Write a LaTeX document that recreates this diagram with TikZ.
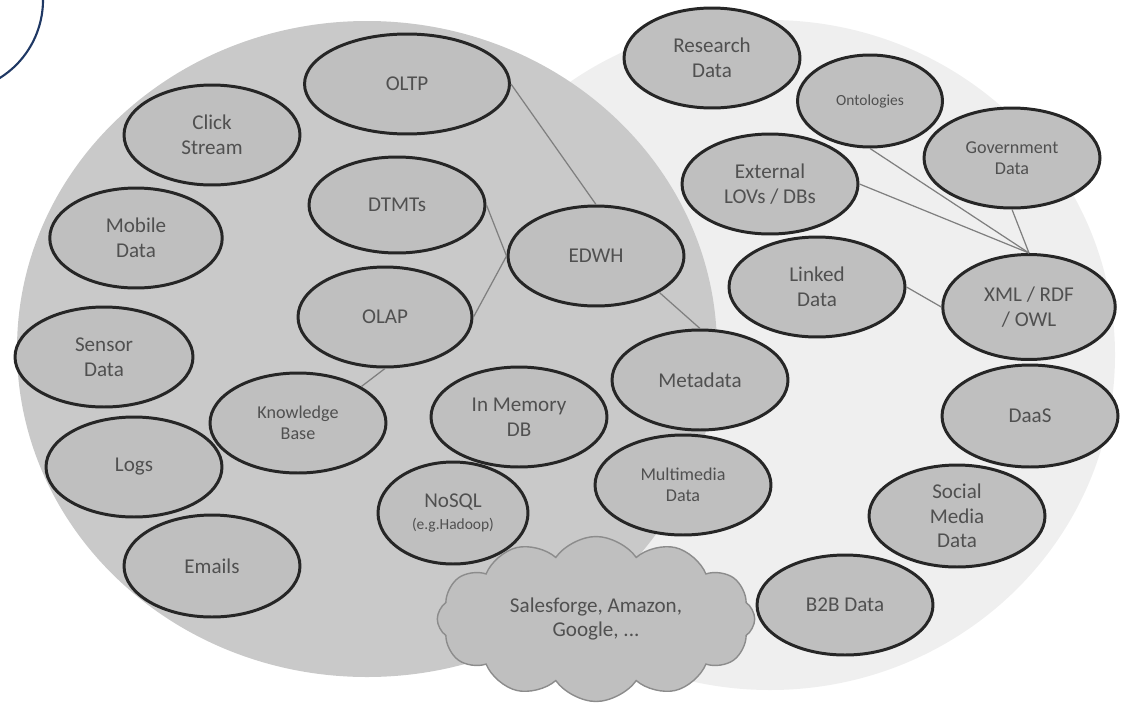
\documentclass[tikz,border=0pt]{standalone}
\usepackage{fontspec}
\setmainfont{Carlito}
\usetikzlibrary{shapes.geometric,shapes.symbols}
\definecolor{bigleft}{HTML}{C9C9C9}
\definecolor{bigright}{HTML}{EFEFEF}
\definecolor{blobfill}{HTML}{BFBFBF}
\definecolor{txtgray}{HTML}{505050}
\definecolor{linkgray}{HTML}{7F7F7F}
\definecolor{navy}{HTML}{1F3864}
\tikzset{
  blob/.style={ellipse,draw=black!85,line width=1.7pt,fill=blobfill,text=txtgray,
    align=center,inner sep=0pt,minimum width=3.52cm,minimum height=2cm,
    font=\fontsize{12}{14}\selectfont},
  smalltxt/.style={font=\fontsize{10.3}{12}\selectfont},
  link/.style={draw=linkgray,line width=0.7pt}
}
\begin{document}
\begin{tikzpicture}[x=0.02cm,y=-0.02cm]
\useasboundingbox (0,0) rectangle (1121,703);
\fill[bigright] (770,355) ellipse [x radius=345,y radius=335];
\fill[bigleft] (367,349) ellipse [x radius=350,y radius=328];
\draw[navy,line width=1.2pt] (-49,0) ++(-15:92) arc[start angle=-15,end angle=62,radius=92];

\node[blob] (research) at (712,58) {Research\\Data};
\node[blob,minimum width=4.1cm] (oltp) at (407,84) {OLTP};
\node[blob,font=\fontsize{8.8}{11}\selectfont,minimum width=2.9cm,minimum height=1.84cm] (onto) at (870,101) {Ontologies};
\node[blob,smalltxt] (gov) at (1012,158) {Government\\Data};
\node[blob] (extern) at (770,184) {External\\LOVs / DBs};
\node[blob] (linked) at (817,287) {Linked\\Data};
\node[blob,minimum width=3.45cm,minimum height=2.1cm] (xml) at (1029,307) {XML / RDF\\/ OWL};
\node[blob] (click) at (212,135) {Click\\Stream};
\node[blob,minimum width=3.45cm] (mobile) at (136,238) {Mobile\\Data};
\node[blob,minimum height=1.92cm] (dtmt) at (397,205) {DTMTs};
\node[blob] (edwh) at (596,256) {EDWH};
\node[blob,minimum width=3.48cm] (olap) at (385,317) {OLAP};
\node[blob,minimum width=3.56cm] (sensor) at (104,357) {Sensor\\Data};
\node[blob,smalltxt] (kb) at (298,423) {Knowledge\\Base};
\node[blob] (inmem) at (519,417) {In Memory\\DB};
\node[blob] (meta) at (700,380) {Metadata};
\node[blob] (logs) at (134,467) {Logs};
\node[blob,smalltxt] (multi) at (683,485) {Multimedia\\Data};
\node[blob,minimum width=3cm,minimum height=2.04cm,font=\fontsize{12}{12.5}\selectfont] (nosql) at (453,513) {NoSQL\\{\fontsize{8.8}{10}\selectfont(e.g.Hadoop)}};
\node[blob,minimum height=2.04cm] (emails) at (212,566) {Emails};
\node[blob,minimum height=2.04cm] (daas) at (1030,416) {DaaS};
\node[blob,minimum height=2.04cm] (social) at (957,516) {Social\\Media\\Data};
\node[blob] (b2b) at (845,605) {B2B Data};
\node[cloud,cloud puffs=12,cloud puff arc=110,aspect=1.9,draw=black!45,line width=0.8pt,
  fill=blobfill,text=txtgray,align=center,inner sep=0pt,minimum width=6.35cm,minimum height=3.3cm,
  font=\fontsize{12}{14}\selectfont] (cloud) at (596,619) {Salesforge, Amazon,\\Google, ...};

\draw[link] (oltp.east) -- (edwh.north);
\draw[link] (dtmt.east) -- (edwh.west);
\draw[link] (olap.east) -- (edwh.west);
\draw[link] (kb.north east) -- (olap.south);
\draw[link] (edwh.south east) -- (meta.north);
\draw[link] (onto.south) -- (xml.north);
\draw[link] (extern.east) -- (xml.north);
\draw[link] (gov.south) -- (xml.north);
\draw[link] (linked.east) -- (xml.west);
\end{tikzpicture}
\end{document}
